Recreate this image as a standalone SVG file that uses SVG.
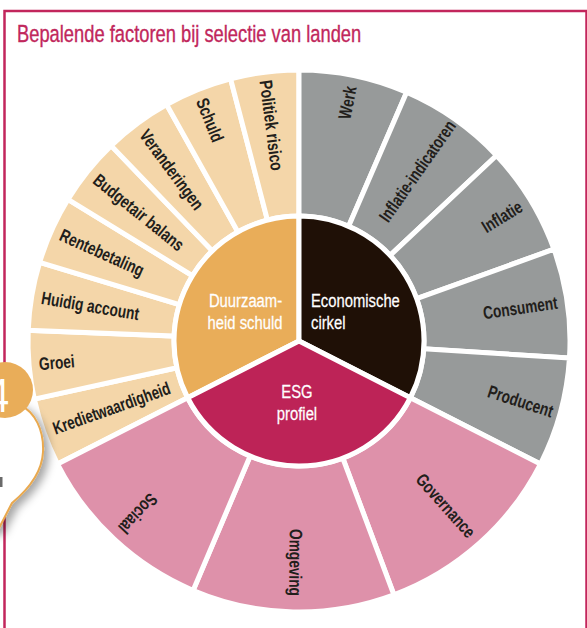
<svg xmlns="http://www.w3.org/2000/svg" width="587" height="628" viewBox="0 0 587 628">
  <style>
    .narrow { font-family: "Liberation Sans", Arial, sans-serif; }
    .title { font-size: 23.5px; fill: #c1275c; stroke: #c1275c; stroke-width: 0.35px; }
    .lbl { font-size: 18px; font-weight: 700; fill: #221e1b; }
    .core { font-size: 19px; fill: #ffffff; stroke: #ffffff; stroke-width: 0.25px; }
    .seg { stroke: #ffffff; stroke-width: 5; stroke-linejoin: miter; }
    .debt { fill: #f4d6a9; }
    .eco { fill: #979a9a; }
    .esg { fill: #de91aa; }
  </style>
  <defs>
    <filter id="bubbleShadow" x="-50%" y="-50%" width="200%" height="200%">
      <feDropShadow dx="5" dy="4" stdDeviation="4" flood-color="#000000" flood-opacity="0.35"/>
    </filter>
  </defs>

  <rect width="587" height="628" fill="#ffffff"/>
  <!-- frame -->
  <rect x="4.5" y="11" width="582" height="660" fill="none" stroke="#c2265c" stroke-width="2.5"/>

  <!-- all texts are drawn in a horizontally compressed sans (scaled along the reading direction) -->
  <text class="narrow title" transform="translate(17 41.5) scale(0.78 1)">Bepalende factoren bij selectie van landen</text>

  <!-- outer ring: debt sustainability factors -->
  <g id="ring-debt">
    <path class="seg debt" d="M57.54,464.03 A271,271 0 0 1 34.30,399.08 L176.90,367.79 A125,125 0 0 0 187.62,397.75 Z"/>
    <path class="seg debt" d="M34.30,399.08 A271,271 0 0 1 28.21,330.36 L174.10,336.09 A125,125 0 0 0 176.90,367.79 Z"/>
    <path class="seg debt" d="M28.21,330.36 A271,271 0 0 1 39.67,262.33 L179.38,304.71 A125,125 0 0 0 174.10,336.09 Z"/>
    <path class="seg debt" d="M39.67,262.33 A271,271 0 0 1 67.93,199.40 L192.42,275.69 A125,125 0 0 0 179.38,304.71 Z"/>
    <path class="seg debt" d="M67.93,199.40 A271,271 0 0 1 111.17,145.65 L212.36,250.89 A125,125 0 0 0 192.42,275.69 Z"/>
    <path class="seg debt" d="M111.17,145.65 A271,271 0 0 1 166.58,104.55 L237.92,231.94 A125,125 0 0 0 212.36,250.89 Z"/>
    <path class="seg debt" d="M166.58,104.55 A271,271 0 0 1 230.58,78.78 L267.44,220.05 A125,125 0 0 0 237.92,231.94 Z"/>
    <path class="seg debt" d="M230.58,78.78 A271,271 0 0 1 299,70 L299,216 A125,125 0 0 0 267.44,220.05 Z"/>
  </g>

  <!-- outer ring: economic cycle factors -->
  <g id="ring-eco">
    <path class="seg eco" d="M299,70 A271,271 0 0 1 406.63,92.29 L348.64,226.28 A125,125 0 0 0 299,216 Z"/>
    <path class="seg eco" d="M406.63,92.29 A271,271 0 0 1 496.55,155.49 L390.12,255.43 A125,125 0 0 0 348.64,226.28 Z"/>
    <path class="seg eco" d="M496.55,155.49 A271,271 0 0 1 553.98,249.20 L416.61,298.66 A125,125 0 0 0 390.12,255.43 Z"/>
    <path class="seg eco" d="M553.98,249.20 A271,271 0 0 1 569.47,358.02 L423.75,348.85 A125,125 0 0 0 416.61,298.66 Z"/>
    <path class="seg eco" d="M569.47,358.02 A271,271 0 0 1 540.46,464.03 L410.38,397.75 A125,125 0 0 0 423.75,348.85 Z"/>
  </g>

  <!-- outer ring: ESG factors -->
  <g id="ring-esg">
    <path class="seg esg" d="M540.46,464.03 A271,271 0 0 1 393.91,594.84 L342.78,458.08 A125,125 0 0 0 410.38,397.75 Z"/>
    <path class="seg esg" d="M393.91,594.84 A271,271 0 0 1 193.11,590.46 L250.16,456.06 A125,125 0 0 0 342.78,458.08 Z"/>
    <path class="seg esg" d="M193.11,590.46 A271,271 0 0 1 57.54,464.03 L187.62,397.75 A125,125 0 0 0 250.16,456.06 Z"/>
  </g>

  <!-- core -->
  <g id="core-debt">
    <path class="seg" fill="#e9ad59" d="M299,341 L187.62,397.75 A125,125 0 0 1 299,216 Z"/>
    <text class="narrow core" text-anchor="middle" transform="translate(245.5 307) scale(0.78 1)">Duurzaam-</text>
    <text class="narrow core" text-anchor="middle" transform="translate(245 329) scale(0.78 1)">heid schuld</text>
  </g>
  <g id="core-eco">
    <path class="seg" fill="#1f1006" d="M299,341 L299,216 A125,125 0 0 1 410.38,397.75 Z"/>
    <text class="narrow core" transform="translate(311 307) scale(0.78 1)">Economische</text>
    <text class="narrow core" transform="translate(311 329) scale(0.78 1)">cirkel</text>
  </g>
  <g id="core-esg">
    <path class="seg" fill="#bd2357" d="M299,341 L410.38,397.75 A125,125 0 0 1 187.62,397.75 Z"/>
    <text class="narrow core" text-anchor="middle" transform="translate(297 398) scale(0.78 1)">ESG</text>
    <text class="narrow core" text-anchor="middle" transform="translate(297 420) scale(0.78 1)">profiel</text>
  </g>

  <!-- ring labels -->
  <g id="labels-debt" class="narrow lbl">
    <text dy="0.35em" transform="translate(53.3 428.9) rotate(-19.69) scale(0.74 1)">Kredietwaardigheid</text>
    <text dy="0.35em" transform="translate(39.0 364.0) rotate(-5.06) scale(0.76 1)">Groei</text>
    <text dy="0.35em" transform="translate(41.6 297.6) rotate(9.56) scale(0.76 1)">Huidig account</text>
    <text dy="0.35em" transform="translate(60.9 234.1) rotate(24.19) scale(0.76 1)">Rentebetaling</text>
    <text dy="0.35em" transform="translate(95.6 177.5) rotate(38.81) scale(0.76 1)">Budgetair balans</text>
    <text dy="0.35em" transform="translate(143.5 131.4) rotate(53.44) scale(0.76 1)">Veranderingen</text>
    <text dy="0.35em" transform="translate(201.5 98.9) rotate(68.06) scale(0.76 1)">Schuld</text>
    <text dy="0.35em" transform="translate(265.8 80.1) rotate(82.69) scale(0.78 1)">Politiek risico</text>
  </g>
  <g id="labels-eco" class="narrow lbl" text-anchor="end">
    <text dy="0.35em" transform="translate(350.5 86.4) rotate(-78.8) scale(0.76 1)">Werk</text>
    <text dy="0.35em" transform="translate(451.5 122.3) rotate(-54.9) scale(0.74 1)">Inflatie-indicatoren</text>
    <text dy="0.35em" transform="translate(520.7 205.1) rotate(-31.5) scale(0.76 1)">Inflatie</text>
    <text dy="0.35em" transform="translate(557.4 302.4) rotate(-8.1) scale(0.76 1)">Consument</text>
    <text dy="0.35em" transform="translate(552.8 411.6) rotate(18) scale(0.76 1)">Producent</text>
  </g>
  <g id="labels-esg" class="narrow lbl" text-anchor="end">
    <text dy="0.35em" transform="translate(472.1 535.0) rotate(48.25) scale(0.76 1)">Governance</text>
    <text dy="0.35em" transform="translate(295.4 595.9) rotate(90.5) scale(0.76 1)">Omgeving</text>
    <text dy="0.35em" transform="translate(121.7 531.2) rotate(133) scale(0.76 1)">Sociaal</text>
  </g>

  <!-- numbered callout at the left edge -->
  <g id="callout">
    <path d="M-30,400 L20,405 C35,412 44,430 43,452 C42,472 30,488 12,503 L-2,530 L-30,530 Z" fill="#ffffff" stroke="#e9a94f" stroke-width="2" filter="url(#bubbleShadow)"/>
    <rect x="0" y="477" width="2.5" height="10" fill="#6a6a6a"/>
    <circle cx="5" cy="390" r="28" fill="#e9ad59"/>
    <text class="narrow" transform="translate(9 412) scale(0.8 1)" text-anchor="end" font-size="48" fill="#ffffff">4</text>
  </g>
</svg>
